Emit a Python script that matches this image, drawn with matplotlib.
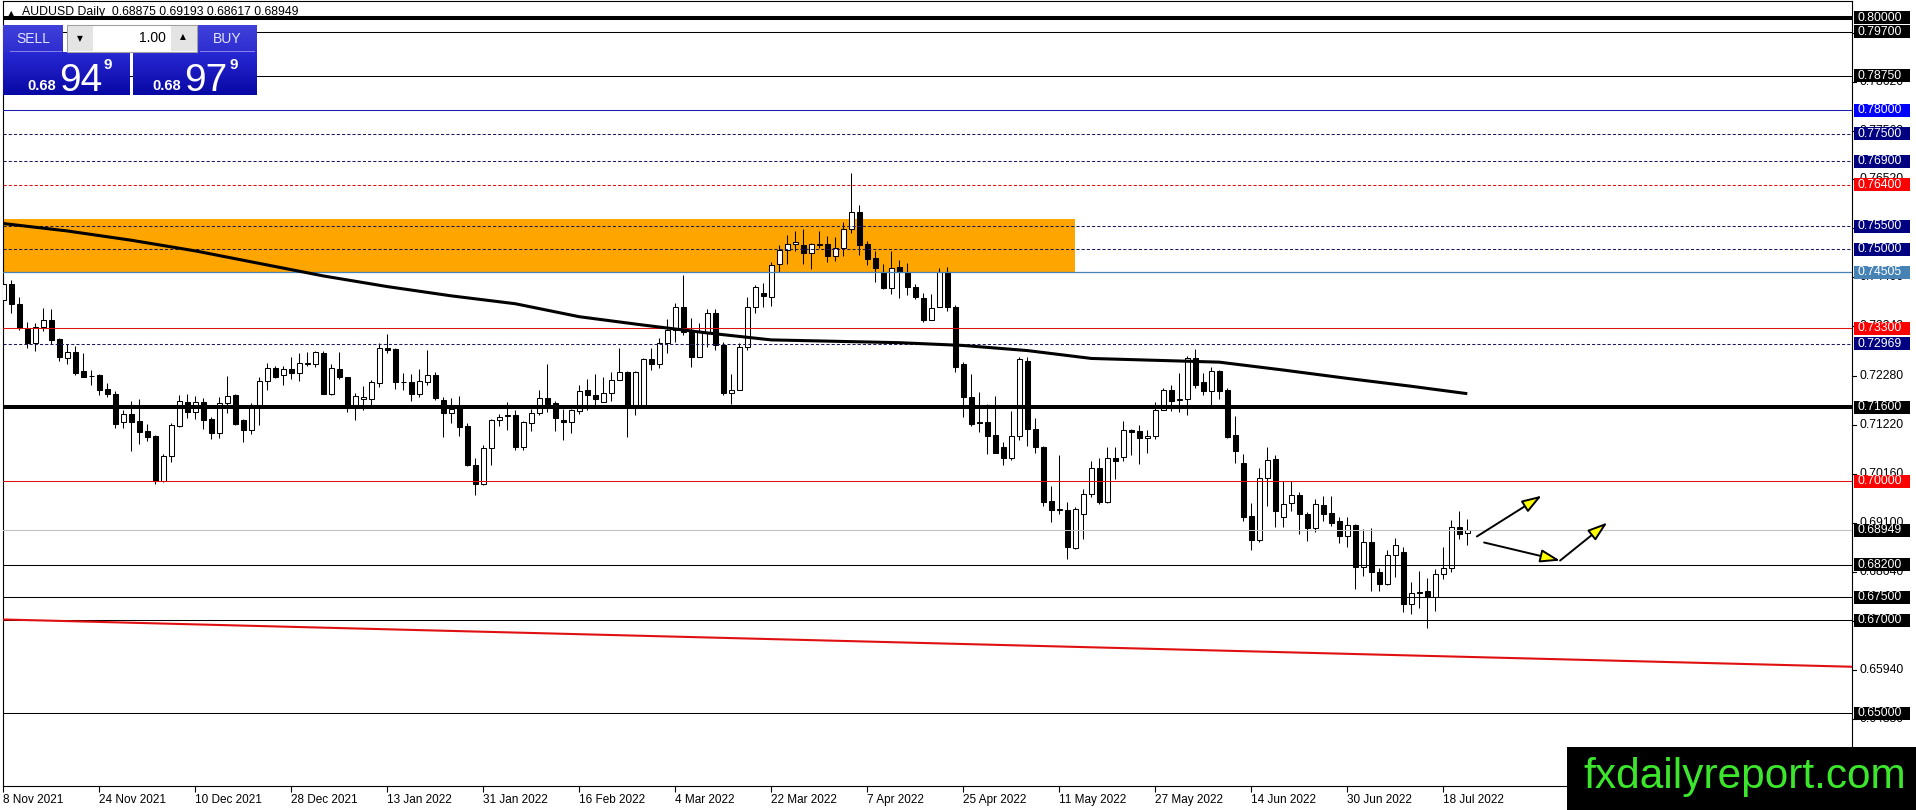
import matplotlib
matplotlib.use("Agg")
import matplotlib.pyplot as plt
import matplotlib.patches as mpatches
import matplotlib.transforms as mtrans
from matplotlib.colors import LinearSegmentedColormap
import numpy as np

W, H = 1916, 810
plt.rcParams["font.family"] = ["Liberation Sans", "DejaVu Sans"]

# ── Daily candles (8 Nov 2021 .. 21 Jul 2022) ────────────────────────────────
opens = [
    .7391, .7426, .7382, .7328, .7298, .7332, .7348, .7307, .7267, .7279,
    .7238, .7227, .7229, .7199, .7189, .7128, .7146, .7130, .7108, .7098,
    .7001, .7054, .7120, .7172, .7150, .7170, .7134, .7104, .7169, .7186,
    .7132, .7110, .7162, .7217, .7244, .7229, .7242, .7234, .7255, .7253,
    .7277, .7189, .7242, .7225, .7162, .7177, .7177, .7212, .7288, .7285,
    .7215, .7215, .7188, .7214, .7230, .7176, .7147, .7160, .7119, .7036,
    .6995, .7072, .7133, .7140, .7142, .7075, .7126, .7147, .7180, .7169,
    .7133, .7128, .7151, .7196, .7187, .7172, .7191, .7219, .7236, .7160,
    .7162, .7263, .7252, .7299, .7326, .7376, .7323, .7269, .7323, .7363,
    .7294, .7190, .7198, .7289, .7377, .7406, .7398, .7468, .7499, .7512,
    .7510, .7492, .7512, .7511, .7485, .7503, .7544, .7581, .7511, .7481,
    .7452, .7418, .7462, .7452, .7420, .7395, .7349, .7375, .7451, .7375,
    .7252, .7181, .7127, .7128, .7099, .7074, .7050, .7098, .7260, .7113,
    .7074, .6957, .6940, .6939, .6857, .6929, .6973, .7029, .6955, .7051,
    .7052, .7110, .7108, .7094, .7098, .7154, .7197, .7175, .7177, .7266,
    .7215, .7194, .7237, .7197, .7099, .7040, .6925, .6874, .7007, .7049,
    .6923, .6953, .6970, .6929, .6899, .6949, .6931, .6915, .6883, .6906,
    .6816, .6869, .6804, .6779, .6840, .6847, .6735, .6760, .6763, .6751,
    .6800, .6812, .6901, .68875,
]
highs = [
    .7440, .7434, .7397, .7343, .7341, .7373, .7371, .7310, .7296, .7292,
    .7276, .7240, .7231, .7211, .7195, .7153, .7173, .7177, .7123, .7099,
    .7058, .7125, .7187, .7189, .7184, .7179, .7139, .7181, .7227, .7188,
    .7135, .7168, .7226, .7255, .7248, .7248, .7268, .7277, .7279, .7280,
    .7280, .7254, .7278, .7226, .7191, .7206, .7218, .7298, .7318, .7288,
    .7234, .7232, .7242, .7283, .7235, .7182, .7180, .7183, .7126, .7050,
    .7079, .7135, .7146, .7170, .7153, .7131, .7156, .7198, .7253, .7174,
    .7155, .7156, .7207, .7220, .7231, .7225, .7236, .7287, .7237, .7238,
    .7267, .7287, .7310, .7350, .7384, .7446, .7352, .7341, .7371, .7371,
    .7301, .7231, .7299, .7397, .7424, .7427, .7474, .7510, .7532, .7540,
    .7545, .7513, .7540, .7530, .7526, .7559, .7665, .7597, .7519, .7497,
    .7468, .7497, .7478, .7470, .7426, .7406, .7403, .7460, .7463, .7380,
    .7258, .7231, .7193, .7166, .7184, .7084, .7151, .7268, .7269, .7137,
    .7077, .6989, .7056, .6955, .6945, .6984, .7044, .7050, .7075, .7075,
    .7129, .7113, .7122, .7111, .7171, .7202, .7207, .7233, .7271, .7286,
    .7234, .7247, .7240, .7202, .7140, .7058, .6953, .7029, .7074, .7056,
    .7000, .7000, .6977, .6933, .6962, .6969, .6969, .6924, .6923, .6908,
    .6897, .6899, .6813, .6852, .6877, .6858, .6782, .6807, .6791, .6810,
    .6859, .6917, .6935, .69193,
]
lows = [
    .7385, .7364, .7326, .7288, .7280, .7325, .7296, .7260, .7252, .7229,
    .7224, .7208, .7186, .7182, .7115, .7115, .7066, .7081, .7087, .6995,
    .6999, .7042, .7117, .7137, .7134, .7112, .7092, .7094, .7148, .7122,
    .7085, .7102, .7122, .7198, .7223, .7208, .7221, .7216, .7248, .7247,
    .7188, .7187, .7221, .7149, .7133, .7153, .7165, .7203, .7277, .7200,
    .7198, .7173, .7181, .7208, .7176, .7095, .7126, .7098, .7032, .6971,
    .6993, .7036, .7120, .7110, .7067, .7067, .7108, .7144, .7149, .7109,
    .7089, .7104, .7146, .7153, .7164, .7170, .7173, .7218, .7095, .7144,
    .7158, .7240, .7245, .7276, .7301, .7316, .7247, .7268, .7290, .7284,
    .7187, .7167, .7196, .7283, .7363, .7377, .7379, .7452, .7469, .7497,
    .7469, .7458, .7504, .7474, .7476, .7485, .7535, .7489, .7467, .7429,
    .7415, .7403, .7395, .7401, .7393, .7344, .7347, .7375, .7368, .7236,
    .7138, .7120, .7107, .7058, .7060, .7035, .7047, .7090, .7077, .7061,
    .6947, .6912, .6930, .6833, .6855, .6875, .6966, .6950, .6953, .7006,
    .7044, .7056, .7038, .7060, .7092, .7153, .7151, .7149, .7142, .7202,
    .7187, .7164, .7177, .7093, .7039, .6914, .6851, .6868, .6946, .6901,
    .6901, .6937, .6886, .6872, .6890, .6915, .6903, .6867, .6858, .6767,
    .6796, .6764, .6764, .6777, .6794, .6717, .6714, .6727, .6684, .6720,
    .6789, .6805, .6876, .68617,
]
closes = [
    .7426, .7382, .7330, .7298, .7332, .7348, .7305, .7269, .7279, .7234,
    .7226, .7228, .7198, .7188, .7123, .7146, .7128, .7107, .7096, .7001,
    .7054, .7121, .7174, .7150, .7172, .7132, .7104, .7169, .7185, .7123,
    .7110, .7161, .7217, .7244, .7226, .7242, .7234, .7255, .7253, .7279,
    .7189, .7244, .7224, .7162, .7185, .7181, .7214, .7288, .7284, .7214,
    .7214, .7188, .7216, .7230, .7180, .7147, .7157, .7117, .7035, .6995,
    .7072, .7133, .7139, .7142, .7075, .7127, .7148, .7180, .7166, .7137,
    .7128, .7153, .7195, .7187, .7178, .7191, .7219, .7236, .7164, .7235,
    .7263, .7252, .7299, .7326, .7376, .7323, .7269, .7323, .7363, .7294,
    .7190, .7198, .7289, .7377, .7419, .7399, .7467, .7499, .7512, .7517,
    .7492, .7512, .7510, .7485, .7503, .7544, .7581, .7510, .7480, .7461,
    .7416, .7461, .7452, .7420, .7397, .7348, .7373, .7452, .7375, .7246,
    .7181, .7123, .7125, .7098, .7062, .7050, .7098, .7263, .7112, .7075,
    .6955, .6939, .6939, .6859, .6941, .6973, .7029, .6955, .7051, .7044,
    .7110, .7106, .7093, .7097, .7154, .7197, .7174, .7177, .7266, .7207,
    .7194, .7237, .7194, .7095, .7065, .6923, .6874, .7007, .7047, .6937,
    .6951, .6970, .6929, .6899, .6951, .6929, .6911, .6881, .6906, .6816,
    .6869, .6804, .6779, .6840, .6862, .6735, .6760, .6762, .6751, .6800,
    .6814, .6901, .6887, .68949,
]

date_labels = ["8 Nov 2021", "24 Nov 2021", "10 Dec 2021", "28 Dec 2021",
               "13 Jan 2022", "31 Jan 2022", "16 Feb 2022", "4 Mar 2022",
               "22 Mar 2022", "7 Apr 2022", "25 Apr 2022", "11 May 2022",
               "27 May 2022", "14 Jun 2022", "30 Jun 2022", "18 Jul 2022"]
date_step = 12

# moving average read at sample bars
ma_bars = [0, 8, 16, 24, 32, 40, 48, 56, 64, 72, 80, 88, 96, 104, 112, 120,
           128, 136, 144, 152, 160, 168, 176, 183]
ma_vals = [.7556, .7540, .7520, .7497, .7470, .7443, .7420, .7400, .7383,
           .7355, .7337, .7320, .7305, .7302, .7299, .7293, .7282, .7265,
           .7261, .7257, .7240, .7222, .7205, .7189]

# orange supply zone
zone_low, zone_high, zone_end = 0.74505, 0.7566, 134

# red trend line end points (bar, price)
trend_bars = [-0.1, 231.09]
trend_prices = [0.6702, 0.6600]

# arrows (bar, price) -> (bar, price)
arrows = [((184.2, 0.6881), (192.3, 0.6969)),
          ((185.1, 0.6868), (194.6, 0.6829)),
          ((194.6, 0.6829), (200.5, 0.6911))]

# horizontal levels
levels = [0.80000, 0.79700, 0.78750, 0.78000, 0.77500, 0.76900, 0.76400,
          0.75500, 0.75000, 0.74505, 0.73300, 0.72969, 0.71600, 0.70000,
          0.68949, 0.68200, 0.67500, 0.67000, 0.65000]
axis_ticks = [0.79680, 0.78620, 0.77560, 0.76520, 0.75460, 0.74400, 0.73340,
              0.72280, 0.71220, 0.70160, 0.69100, 0.68040, 0.66980, 0.65940,
              0.64880, 0.63820]

bid, ask, lot = 0.68949, 0.68979, 1.00

# ── level styles ─────────────────────────────────────────────────────────────
NAVY, DASH, RED, BLK = "#000080", "#1A1A5E", "#E01010", "black"
lvl_line = [BLK, BLK, BLK, "#1C1CB4", DASH, DASH, RED, DASH, DASH, "#4682B4",
            RED, DASH, BLK, RED, "#C0C0C0", BLK, BLK, BLK, BLK]
lvl_lw = [2.9, .75, .75, .75, .75, .75, .75, .75, .75, .9, .75, .75, 2.9, .75,
          .75, .75, .75, .75, .75]
lvl_dash = [False, False, False, False, True, True, True, True, True, False,
            False, True, False, False, False, False, False, False, False]
lvl_bg = [BLK, BLK, BLK, "#0000FF", NAVY, NAVY, "#FF0000", NAVY, NAVY,
          "#4682B4", "#FF0000", NAVY, BLK, "#FF0000", BLK, BLK, BLK, BLK, BLK]

# ── figure ──────────────────────────────────────────────────────────────────
fig = plt.figure(figsize=(W / 100, H / 100), dpi=100, facecolor="white")
ax = fig.add_axes([2.5 / W, (H - 786) / H, (1852 - 2.5) / W, (786 - 1) / H])
ax.set_xlim(-0.1, 231.09)
ax.set_ylim(0.634275, 0.803602)
for s in ax.spines.values():
    s.set_color("black")
    s.set_linewidth(0.8)
ax.set_yticks([])
ax.set_xticks(np.arange(len(date_labels)) * date_step)
ax.set_xticklabels(date_labels, ha="left", fontsize=8.5)
ax.tick_params(axis="x", length=4, width=0.8, pad=2)

# zone
ax.add_patch(mpatches.Rectangle((-0.5, zone_low), zone_end + 0.5, zone_high - zone_low,
                                facecolor="#FFA500", edgecolor="none", zorder=1))

# candles
o, h, l, c = map(np.array, (opens, highs, lows, closes))
x = np.arange(len(o))
ax.vlines(x, l, h, color="black", lw=0.75, zorder=3)
ax.bar(x, np.abs(c - o), 0.58, bottom=np.minimum(o, c),
       color=np.where(c >= o, "white", "black"), edgecolor="black",
       linewidth=0.75, zorder=4)

# levels
for p, col, lw, dsh in zip(levels, lvl_line, lvl_lw, lvl_dash):
    ax.axhline(p, color=col, lw=lw, ls=(0, (3, 2)) if dsh else "-", zorder=5)

# MA and trend line
ax.plot(ma_bars, ma_vals, color="black", lw=2.2, zorder=5, solid_capstyle="butt")
ax.plot(trend_bars, trend_prices, color=RED, lw=1.5, zorder=5)

for a, b in arrows:
    ax.add_patch(mpatches.FancyArrowPatch(a, b, arrowstyle="-|>,head_length=1.2,head_width=0.4",
                                          mutation_scale=10, lw=1.4, edgecolor="black",
                                          facecolor="#FFFF00", shrinkA=0, shrinkB=0, zorder=6))

# title line (under the 0.80 thick line)
ax.text(8 / W, 1 - 14 / H, "\u25B2", transform=fig.transFigure, fontsize=6,
        va="center", ha="left", zorder=4.5, family=["DejaVu Sans"])
ax.text(22 / W, 1 - 12 / H,
        f"AUDUSD Daily  {opens[-1]:.5f} {highs[-1]:.5f} {lows[-1]:.5f} {closes[-1]:.5f}",
        transform=fig.transFigure, fontsize=8.8, va="center", ha="left", zorder=4.5)

# right price axis
trans = mtrans.blended_transform_factory(fig.transFigure, ax.transData)
for p in axis_ticks:
    ax.plot([1852 / W, 1856 / W], [p, p], transform=trans, color="black",
            lw=0.8, clip_on=False, zorder=6)
    ax.text(1859 / W, p, f"{p:.5f}", transform=trans, fontsize=8.8, va="center",
            ha="left", color="black", clip_on=False, zorder=6)
half = 6.5 / 4636
for p, bg in zip(levels, lvl_bg):
    ax.add_patch(mpatches.Rectangle((1854 / W, p - half), 56 / W, 2 * half, transform=trans,
                                    facecolor=bg, edgecolor="none", clip_on=False, zorder=7))
    ax.text(1857 / W, p, f"{p:.5f}", transform=trans, fontsize=8.8, va="center",
            ha="left", color="white", clip_on=False, zorder=8)


# ── trade panel ─────────────────────────────────────────────────────────────
def fbox(x0, y0, x1, y1, color, z=1, ec="none"):
    fig.add_artist(mpatches.Rectangle((x0 / W, 1 - y1 / H), (x1 - x0) / W, (y1 - y0) / H,
                                      transform=fig.transFigure, facecolor=color,
                                      edgecolor=ec, lw=0.8, zorder=z))


def gbox(x0, y0, x1, y1, top, bottom):
    gax = fig.add_axes([x0 / W, 1 - y1 / H, (x1 - x0) / W, (y1 - y0) / H])
    gax.imshow(np.linspace(0, 1, 64)[:, None], aspect="auto",
               cmap=LinearSegmentedColormap.from_list("g", [top, bottom]), extent=(0, 1, 0, 1))
    gax.axis("off")
    gax.set_zorder(2)


gbox(3, 25, 63, 52, "#4040DA", "#2E2ED0")
gbox(198, 25, 257, 52, "#4040DA", "#2E2ED0")
gbox(3, 52, 130, 95, "#2828D4", "#0808A4")
gbox(133, 52, 257, 95, "#2828D4", "#0808A4")
fbox(10, 51, 62, 52.2, "#8080E8", z=3)
fbox(200, 51, 255, 52.2, "#8080E8", z=3)
fbox(67, 25, 197, 51.5, "white", z=3, ec="#A0A0A0")
fbox(67.5, 25.5, 92.5, 51, "#E4E4E4", z=3)
fbox(170.5, 25.5, 196.5, 51, "#E4E4E4", z=3)

fig.text(33 / W, 1 - 39 / H, "SELL", color="#E4E4FF", fontsize=10, ha="center", va="center", zorder=4)
fig.text(227 / W, 1 - 39 / H, "BUY", color="#E4E4FF", fontsize=10, ha="center", va="center", zorder=4)
fig.text(166 / W, 1 - 38 / H, f"{lot:.2f}", color="black", fontsize=10, ha="right", va="center", zorder=4)
fig.text(80 / W, 1 - 39 / H, "\u25BC", fontsize=5.5, ha="center", va="center", zorder=4, family=["DejaVu Sans"])
fig.text(183 / W, 1 - 37 / H, "\u25B2", fontsize=5.5, ha="center", va="center", zorder=4, family=["DejaVu Sans"])

for price, x0 in ((bid, 27), (ask, 152)):
    s = f"{price:.5f}"
    fig.text(x0 / W, 1 - 90 / H, s[:4], color="white", fontsize=10.5, fontweight="bold",
             ha="left", va="baseline", zorder=4)
    fig.text((x0 + 32) / W, 1 - 91 / H, s[4:6], color="white", fontsize=28,
             ha="left", va="baseline", zorder=4)
    fig.text((x0 + 77) / W, 1 - 58 / H, s[6], color="white", fontsize=11, fontweight="bold",
             ha="left", va="top", zorder=4)

# ── watermark ───────────────────────────────────────────────────────────────
fbox(1567, 747, 1916, 810, "black", z=5)
fig.text(1583 / W, 1 - 788 / H, "fxdailyreport.com", color="#3CE62C", fontsize=30.5,
         ha="left", va="baseline", zorder=6)

fig.savefig("out.png", dpi=100, facecolor="white")
